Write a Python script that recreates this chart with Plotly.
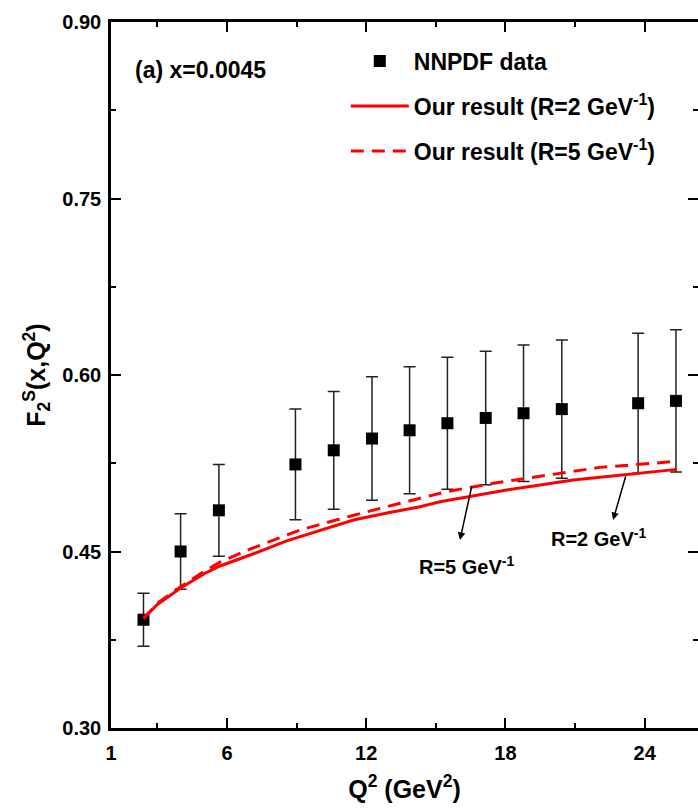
import plotly.graph_objects as go

# NNPDF data points
q2_data = [2.4, 4.0, 5.65, 8.95, 10.6, 12.25, 13.87, 15.5, 17.15, 18.78, 20.43, 23.72, 25.35]
f2_data = [0.392, 0.450, 0.485, 0.524, 0.536, 0.546, 0.553, 0.559, 0.5635, 0.5675, 0.571, 0.576, 0.578]
f2_err = [0.0225, 0.032, 0.039, 0.047, 0.050, 0.0525, 0.054, 0.056, 0.0567, 0.058, 0.0587, 0.0594, 0.0604]

# Our result, R = 2 GeV^-1
q2_r2 = [2.4, 3, 4, 5, 5.7, 7, 8.57, 10, 11.45, 13, 14.32, 15.18, 16.5, 18.05, 19.5, 20.92, 22.5, 23.8, 25.38]
f2_r2 = [0.393, 0.405, 0.419, 0.431, 0.4377, 0.447, 0.459, 0.468, 0.4768, 0.4832, 0.488, 0.4923, 0.497,
         0.5023, 0.5066, 0.5108, 0.514, 0.5164, 0.5198]

# Our result, R = 5 GeV^-1
q2_r5 = [2.4, 3, 4, 5, 5.7, 6.99, 9.15, 11.3, 13.46, 14.53, 15.47, 17.48, 19.78, 22.07, 25.3]
f2_r5 = [0.393, 0.406, 0.420, 0.433, 0.441, 0.452, 0.4683, 0.480, 0.491, 0.496, 0.5009, 0.508, 0.515,
         0.5215, 0.5265]

x_ticks = [1, 6, 12, 18, 24]
x_minor = [3, 9, 15, 21]
y_ticks = [0.30, 0.45, 0.60, 0.75, 0.90]
y_minor = [0.375, 0.525, 0.675, 0.825]

RED = "#ff0000"
FONT = "Liberation Sans, Arial, sans-serif"

fig = go.Figure()
fig.add_trace(go.Scatter(
    x=q2_data, y=f2_data, mode="markers", name="NNPDF data",
    marker=dict(symbol="square", size=12, color="black"),
    error_y=dict(type="data", array=f2_err, thickness=1.5, width=6, color="#222222"),
    legendgroup="a",
))
fig.add_trace(go.Scatter(
    x=q2_r2, y=f2_r2, mode="lines", name="Our result (R=2 GeV<sup>-1</sup>)",
    line=dict(color=RED, width=3), legendgroup="b",
))
fig.add_trace(go.Scatter(
    x=q2_r5, y=f2_r5, mode="lines", name="Our result (R=5 GeV<sup>-1</sup>)",
    line=dict(color=RED, width=3, dash="13px,8px"), legendgroup="c",
))

axis_common = dict(
    showline=True, linecolor="black", linewidth=2.5, mirror="ticks",
    ticks="inside", ticklen=10, tickwidth=2, tickcolor="black",
    showgrid=False, zeroline=False, automargin=False,
    tickfont=dict(size=20, color="black", family=FONT, weight="bold"),
)

fig.update_layout(
    width=698, height=810,
    margin=dict(l=111, r=0, t=22, b=82, autoexpand=False),
    paper_bgcolor="white", plot_bgcolor="white",
    font=dict(family=FONT, color="black", weight="bold"),
    xaxis=dict(
        range=[1, 26.3], tickvals=x_ticks, ticktext=[str(v) for v in x_ticks],
        minor=dict(tickvals=x_minor, ticks="inside", ticklen=5, tickwidth=2, tickcolor="black"),
        title=dict(text="Q<sup>2</sup> (GeV<sup>2</sup>)", font=dict(size=25, family=FONT, weight="bold"), standoff=18),
        ticklabelstandoff=5,
        **axis_common,
    ),
    yaxis=dict(
        range=[0.30, 0.90], tickvals=y_ticks, ticktext=[f"{v:.2f}" for v in y_ticks],
        minor=dict(tickvals=y_minor, ticks="inside", ticklen=5, tickwidth=2, tickcolor="black"),
        title=dict(text="F<sub>2</sub><sup>S</sup>(x,Q<sup>2</sup>)", font=dict(size=25, family=FONT, weight="bold"), standoff=10),
        ticklabelstandoff=3,
        **axis_common,
    ),
    legend=dict(
        x=0.40, y=0.975, xanchor="left", yanchor="top",
        bgcolor="rgba(0,0,0,0)", borderwidth=0,
        font=dict(size=23, family=FONT, color="black", weight="bold"),
        itemwidth=58, tracegroupgap=12,
    ),
    showlegend=True,
)

fig.add_annotation(text="(a) x=0.0045", x=0.153, y=0.932, xref="paper", yref="paper",
                   xanchor="center", yanchor="middle",
                   showarrow=False, font=dict(size=23, family=FONT, weight="bold"))
fig.add_annotation(text="R=5 GeV<sup>-1</sup>", x=16.34, y=0.4377, xref="x", yref="y",
                   xanchor="center", yanchor="middle",
                   showarrow=False, font=dict(size=20, family=FONT, weight="bold"))
fig.add_annotation(text="R=2 GeV<sup>-1</sup>", x=21.99, y=0.4623, xref="x", yref="y",
                   xanchor="center", yanchor="middle",
                   showarrow=False, font=dict(size=20, family=FONT, weight="bold"))
fig.add_annotation(text="", x=16.04, y=0.4598, ax=16.56, ay=0.5065, xref="x", yref="y",
                   axref="x", ayref="y", showarrow=True, arrowhead=2, arrowsize=1,
                   arrowwidth=1.5, arrowcolor="black")
fig.add_annotation(text="", x=22.64, y=0.4768, ax=23.2, ay=0.515, xref="x", yref="y",
                   axref="x", ayref="y", showarrow=True, arrowhead=2, arrowsize=1,
                   arrowwidth=1.5, arrowcolor="black")

# remove the default page margin so the 698x810 figure fills the window exactly
post = ("document.body.style.margin='0';"
        "document.documentElement.style.overflow='hidden';"
        "document.body.style.overflow='hidden';")
fig.write_html("out.html", config={"responsive": False, "displayModeBar": False}, post_script=post)
